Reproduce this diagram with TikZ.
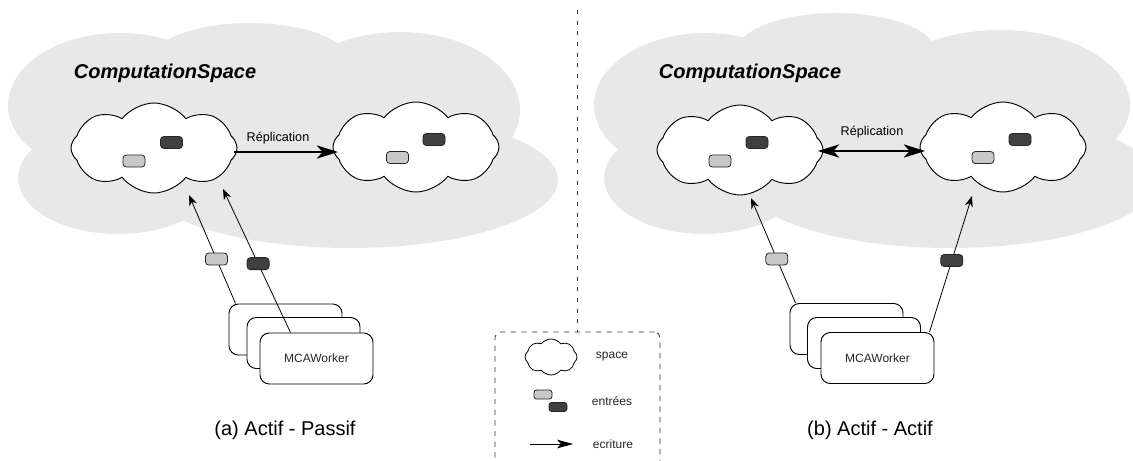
\documentclass[tikz,border=0pt]{standalone}
\usepackage{fontspec}
\setmainfont{Liberation Sans}
\usetikzlibrary{shapes.symbols,arrows.meta,calc}
\definecolor{cloudgray}{HTML}{E8E8E8}
\definecolor{entlight}{HTML}{C8C8C8}
\definecolor{entdark}{HTML}{404040}
\tikzset{
  bighead/.tip={Stealth[length=16pt,width=10pt,inset=4.5pt]},
  smallhead/.tip={Stealth[length=8pt,width=6pt,inset=2.5pt]},
  leghead/.tip={Stealth[length=12pt,width=6.5pt,inset=3pt]}
}
\begin{document}
\begin{tikzpicture}[x=0.75pt,y=-0.75pt,
  spacecloud/.style={cloud, cloud puffs=8, cloud puff arc=105, cloud ignores aspect, draw=black, fill=white, line width=0.7pt, minimum width=124.5pt, minimum height=67.5pt, inner sep=0pt, shape border rotate=10},
  smallcloud/.style={spacecloud, minimum width=39pt, minimum height=27pt, line width=0.6pt},
  entry/.style={rectangle, rounded corners=2.5pt, draw=black!85, line width=0.6pt, minimum width=16.5pt, minimum height=9pt, inner sep=0pt},
  entL/.style={entry, fill=entlight},
  entD/.style={entry, fill=entdark},
  smallentry/.style={minimum width=13.5pt, minimum height=6.75pt, rounded corners=2pt},
  worker/.style={rectangle, rounded corners=7pt, draw=black, fill=white, line width=0.7pt, minimum width=84.75pt, minimum height=38.25pt, inner sep=0pt, font=\fontsize{9}{11}\selectfont, text=black!85},
  wr/.style={-{smallhead}, line width=0.6pt},
  reparrow/.style={line width=0.9pt},
  title/.style={font=\bfseries\itshape\fontsize{15}{18}\selectfont},
  caption/.style={font=\fontsize{15}{18}\selectfont},
  replabel/.style={font=\fontsize{9.5}{11}\selectfont},
  legtext/.style={font=\fontsize{9}{11}\selectfont, text=black!85},
  legbox/.style={rectangle, draw=black!80, dash pattern=on 4pt off 4pt, rounded corners=4pt, line width=0.6pt, minimum width=123.75pt, minimum height=111pt, inner sep=0pt},
  divider/.style={draw=black!80, dash pattern=on 3pt off 5pt, line width=0.6pt}
]
\useasboundingbox (0,0) rectangle (1133,461);
\clip (0,0) rectangle (1133,461);

% grey computation spaces
\fill[cloudgray] (120,105) ellipse [x radius=84pt, y radius=54pt];
\fill[cloudgray] (250,62) ellipse [x radius=75pt, y radius=29.25pt];
\fill[cloudgray] (400,110) ellipse [x radius=90pt, y radius=58.5pt];
\fill[cloudgray] (118,178) ellipse [x radius=75pt, y radius=42pt];
\fill[cloudgray] (350,180) ellipse [x radius=156pt, y radius=51pt];
\fill[cloudgray] (280,120) ellipse [x radius=120pt, y radius=45pt];

\fill[cloudgray] (706,105) ellipse [x radius=84pt, y radius=54pt];
\fill[cloudgray] (836,52) ellipse [x radius=75pt, y radius=29.25pt];
\fill[cloudgray] (1000,105) ellipse [x radius=97.5pt, y radius=56.25pt];
\fill[cloudgray] (704,178) ellipse [x radius=75pt, y radius=42pt];
\fill[cloudgray] (950,180) ellipse [x radius=155pt, y radius=51pt];
\fill[cloudgray] (866,120) ellipse [x radius=120pt, y radius=45pt];

\node[title] (csA) at (165,73) {ComputationSpace};
\node[title] (csB) at (750,73) {ComputationSpace};

% white spaces
\node[spacecloud] (cA) at (154,148) {};
\node[spacecloud] (cB) at (416,147) {};
\node[spacecloud] (cC) at (740,150) {};
\node[spacecloud] (cD) at (1003,147) {};

% entries inside spaces
\node[entD] (eAd) at (171.5,142.5) {};
\node[entL] (eAl) at (134,161) {};
\node[entD] (eBd) at (434,139.5) {};
\node[entL] (eBl) at (397.5,157.5) {};
\node[entD] (eCd) at (757,142.5) {};
\node[entL] (eCl) at (720,161) {};
\node[entD] (eDd) at (1020,139.5) {};
\node[entL] (eDl) at (983,157.5) {};

% replication
\node[replabel] (repA) at (278,138) {Réplication};
\node[replabel] (repB) at (872,132) {Réplication};
\draw[reparrow, -{bighead}] ($(cA)+(80,4)$) -- ($(cB)+(-78,5)$);
\draw[reparrow, {bighead}-{bighead}] ($(cC)+(78,1)$) -- ($(cD)+(-78,4)$);

% workers
\node[worker] (wAback) at (285.5,329.5) {};
\node[worker] (wAmid) at (303.5,343) {};
\node[worker] (wAfront) at (316.5,358.5) {MCAWorker};
\node[worker] (wBback) at (846.5,329) {};
\node[worker] (wBmid) at (864,343) {};
\node[worker] (wBfront) at (877.5,358) {MCAWorker};

% writes
\draw[wr] ($(wAback.north west)+(7,0)$) -- node[entL, pos=0.41] (wAl) {} ($(cA)+(35,47)$);
\draw[wr] ($(wAfront.north west)+(31,0)$) -- node[entD, pos=0.48] (wAd) {} ($(cA)+(69,41)$);
\draw[wr] ($(wBback.north west)+(6,0)$) -- node[entL, pos=0.42] (wBl) {} ($(cC)+(11,48)$);
\draw[wr] ($(wBfront.north east)+(-5,0)$) -- node[entD, pos=0.526] (wBd) {} ($(cD)+(-31,49)$);

% captions
\node[caption] (capA) at (285,430) {(a) Actif - Passif};
\node[caption] (capB) at (870,430) {(b) Actif - Actif};

% legend
\node[legbox] (leg) at (577.5,406) {};
\coordinate (divtop) at (577.5,10);
\draw[divider] (divtop) -- (leg.north);
\node[smallcloud] (lcloud) at (551,357) {};
\node[legtext] (lspace) at (612,357) {space};
\node[entL, smallentry] (lel) at (543,394.5) {};
\node[entD, smallentry] (led) at (558,407) {};
\node[legtext] (lentries) at (612,401) {entrées};
\coordinate (la) at (530,444);
\coordinate (lb) at (573,444);
\draw[-{leghead}, line width=0.6pt] (la) -- (lb);
\node[legtext] (lwrite) at (613,444) {ecriture};
\end{tikzpicture}
\end{document}
